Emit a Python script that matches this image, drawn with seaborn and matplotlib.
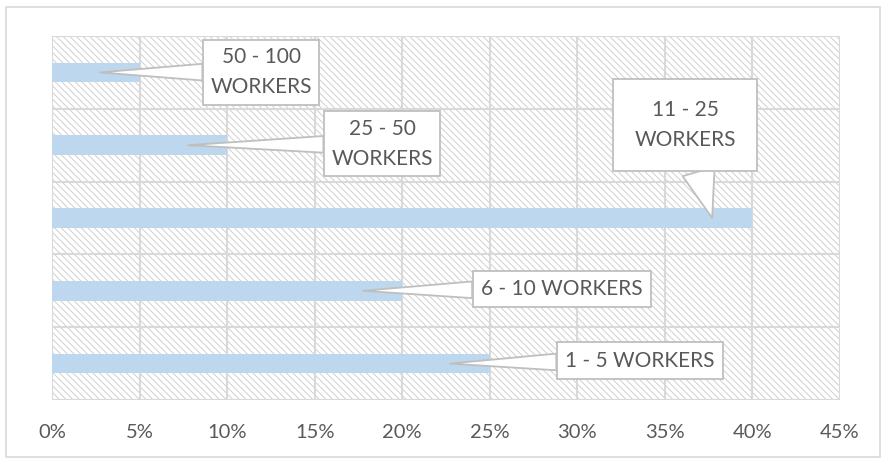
import numpy as np
import pandas as pd
import matplotlib.pyplot as plt
import seaborn as sns
from matplotlib.patches import Rectangle
from matplotlib.ticker import PercentFormatter, MultipleLocator

# Chart data (top to bottom)
categories = ["50 - 100 WORKERS", "25 - 50 WORKERS", "11 - 25 WORKERS", "6 - 10 WORKERS", "1 - 5 WORKERS"]
shares = [0.05, 0.10, 0.40, 0.20, 0.25]
callout_text = ["50 - 100\nWORKERS", "25 - 50\nWORKERS", "11 - 25\nWORKERS", "6 - 10 WORKERS", "1 - 5 WORKERS"]

# Callout layout: (box x, box y, pointer x, box pad, wedge width)
callout_layout = [
    (0.1194, -0.005, 0.0274, 0.35, 0.8),
    (0.1885, 0.983, 0.0777, 0.35, 0.8),
    (0.3615, 0.72, 0.377, 1.0, 1.6),
    (0.2912, 2.975, 0.1776, 0.4, 0.8),
    (0.3358, 3.96, 0.2273, 0.4, 0.8),
]

df = pd.DataFrame({"size": categories, "share": shares})

sns.set_style("white")
plt.rcParams["font.family"] = ["Lato", "DejaVu Sans"]
plt.rcParams["hatch.linewidth"] = 0.7
plt.rcParams["hatch.color"] = "#d0d0d0"

text_color = "#595959"
grid_color = "#d9d9d9"

fig = plt.figure(figsize=(8.81, 4.59), dpi=100)
ax = fig.add_axes([52 / 881, 59 / 459, 788 / 881, 364 / 459])

# outer chart border
fig.patches.append(Rectangle((6 / 881, 2 / 459), 874 / 881, 450 / 459, transform=fig.transFigure,
                             fill=False, edgecolor=grid_color, linewidth=1.2))

# hatched plot area
ax.add_patch(Rectangle((0, 0), 1, 1, transform=ax.transAxes, facecolor="white",
                       edgecolor="#d0d0d0", hatch="\\\\\\\\\\", linewidth=0, zorder=0))

sns.barplot(data=df, x="share", y="size", orient="h", color="#bdd7ee",
            width=0.27, edgecolor="none", saturation=1, ax=ax, zorder=2)

ax.set_xlim(0, 0.45)
ax.set_ylim(len(categories) - 0.5, -0.5)
ax.xaxis.set_major_locator(MultipleLocator(0.05))
ax.xaxis.set_major_formatter(PercentFormatter(1.0, decimals=0))

# grid lines
for x in np.arange(0, 0.451, 0.05):
    ax.axvline(x, color=grid_color, linewidth=1.5, zorder=1)
for y in np.arange(-0.5, len(categories), 1.0):
    ax.axhline(y, color=grid_color, linewidth=1.5, zorder=1)

for s in ax.spines.values():
    s.set_visible(False)

ax.set_xlabel("")
ax.set_ylabel("")
ax.set_yticks([])
ax.tick_params(axis="x", length=0, pad=17, labelsize=14.5, labelcolor=text_color)

# callouts
for i, (label, (bx, by, px, pad, tw)) in enumerate(zip(callout_text, callout_layout)):
    ax.annotate(label, xy=(px, i), xytext=(bx, by), ha="center", va="center",
                fontsize=15, color=text_color, linespacing=1.65, zorder=5,
                bbox=dict(boxstyle=f"square,pad={pad}", fc="white", ec="#bfbfbf", lw=1.3),
                arrowprops=dict(arrowstyle=f"wedge,tail_width={tw},shrink_factor=0.5",
                                fc="white", ec="#bfbfbf", lw=1.3, shrinkA=0, shrinkB=0))

fig.savefig("out.png", dpi=100)
